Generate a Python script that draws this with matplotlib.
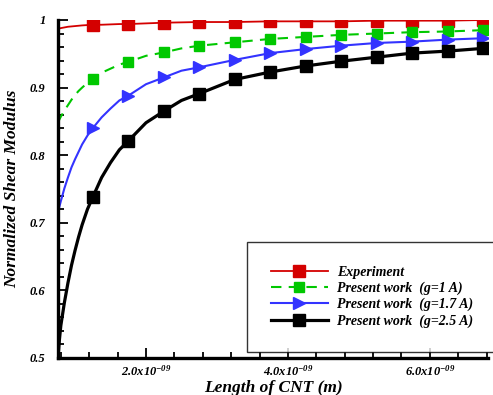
import matplotlib
matplotlib.use("Agg")
import matplotlib.pyplot as plt
from matplotlib.ticker import FixedLocator, FuncFormatter, MultipleLocator

plt.rcParams["font.family"] = "Liberation Serif"
plt.rcParams["font.weight"] = "bold"
plt.rcParams["font.style"] = "italic"
plt.rcParams["axes.labelweight"] = "bold"
plt.rcParams["mathtext.fontset"] = "custom"
plt.rcParams["mathtext.rm"] = "Liberation Serif:bold:italic"
plt.rcParams["mathtext.it"] = "Liberation Serif:bold:italic"

# CNT length (units of 1e-9 m)
x_curve = [0.76, 0.78, 0.80, 0.85, 0.90, 0.95, 1.00, 1.05, 1.10, 1.175, 1.25,
           1.375, 1.50, 1.625, 1.75, 2.00, 2.25, 2.50, 2.75,
           3.25, 3.75, 4.25, 4.75, 5.25, 5.75, 6.25, 6.75]
x_marks = [1.25, 1.75, 2.25, 2.75, 3.25, 3.75, 4.25, 4.75, 5.25, 5.75, 6.25, 6.75]

experiment = [0.987, 0.9875, 0.988, 0.989, 0.990, 0.9905, 0.991, 0.9915, 0.992,
              0.9925, 0.993, 0.993, 0.9935, 0.994, 0.994, 0.995, 0.996, 0.9965,
              0.997, 0.997, 0.998, 0.998, 0.998, 0.999, 0.999, 0.999, 1.000]
g_1 = [0.848, 0.853, 0.857, 0.866, 0.874, 0.882, 0.889, 0.895, 0.900, 0.907,
       0.913, 0.922, 0.928, 0.934, 0.938, 0.947, 0.952, 0.958, 0.962,
       0.967, 0.972, 0.975, 0.978, 0.980, 0.982, 0.983, 0.985]
g_17 = [0.715, 0.724, 0.732, 0.751, 0.767, 0.782, 0.794, 0.805, 0.816, 0.829,
        0.840, 0.856, 0.869, 0.881, 0.888, 0.905, 0.915, 0.925, 0.930,
        0.941, 0.951, 0.957, 0.962, 0.966, 0.968, 0.971, 0.973]
g_25 = [0.500, 0.527, 0.548, 0.582, 0.611, 0.637, 0.659, 0.679, 0.697, 0.720,
        0.738, 0.767, 0.789, 0.808, 0.821, 0.848, 0.865, 0.881, 0.891,
        0.912, 0.923, 0.932, 0.939, 0.945, 0.951, 0.954, 0.958]

labels = ["Experiment", "Present work  (g=1 A)", "Present work  (g=1.7 A)",
          "Present work  (g=2.5 A)"]

x_m = [v * 1e-9 for v in x_curve]
mark_idx = [i for i, v in enumerate(x_curve) if v in x_marks]

fig = plt.figure(figsize=(4.93, 3.95), dpi=100)
ax = fig.add_axes([58 / 493, 1 - 358 / 395, 430 / 493, 338 / 395])

ax.plot(x_m, experiment, color="#d40000", lw=1.3, marker="s", ms=8,
        markevery=mark_idx, label=labels[0])
ax.plot(x_m, g_1, color="#00c800", lw=1.5, ls=(0, (5, 3.5)), marker="s", ms=7,
        markevery=mark_idx, label=labels[1])
ax.plot(x_m, g_17, color="#3333ff", lw=1.5, marker=">", ms=9,
        markevery=mark_idx, label=labels[2])
ax.plot(x_m, g_25, color="black", lw=2.3, marker="s", ms=8,
        markevery=mark_idx, label=labels[3])

ax.set_xlim(0.76e-9, 6.82e-9)
ax.set_ylim(0.5, 1.0)

ax.xaxis.set_major_locator(FixedLocator([2e-9, 4e-9, 6e-9]))
ax.xaxis.set_minor_locator(MultipleLocator(0.4e-9))
ax.xaxis.set_major_formatter(FuncFormatter(
    lambda v, p: r"%.1fx10$^{\mathrm{-09}}$" % (v * 1e9)))
ax.yaxis.set_major_locator(MultipleLocator(0.1))
ax.yaxis.set_minor_locator(MultipleLocator(0.02))
ax.yaxis.set_major_formatter(FuncFormatter(
    lambda v, p: "1" if abs(v - 1) < 1e-9 else "%.1f" % v))

ax.tick_params(which="both", direction="in", width=1.3, labelsize=9)
ax.tick_params(which="major", length=7)
ax.tick_params(which="minor", length=4)
ax.tick_params(axis="x", pad=4)
ax.tick_params(axis="y", pad=9)

for s in ["top", "right"]:
    ax.spines[s].set_visible(False)
for s in ["left", "bottom"]:
    ax.spines[s].set_linewidth(2.4)

ax.set_xlabel("Length of CNT (m)", fontsize=12.5, labelpad=1)
ax.set_ylabel("Normalized Shear Modulus", fontsize=12.5, labelpad=7)

leg = ax.legend(loc="upper left", bbox_to_anchor=(247 / 493, 1 - 242 / 395),
                bbox_transform=fig.transFigure, fontsize=10, frameon=True,
                fancybox=False, edgecolor="black", borderpad=1.72,
                handlelength=4.1, handletextpad=0.65, labelspacing=0.2,
                borderaxespad=0)
leg.get_frame().set_linewidth(1.0)

fig.savefig("out.png", dpi=100)
